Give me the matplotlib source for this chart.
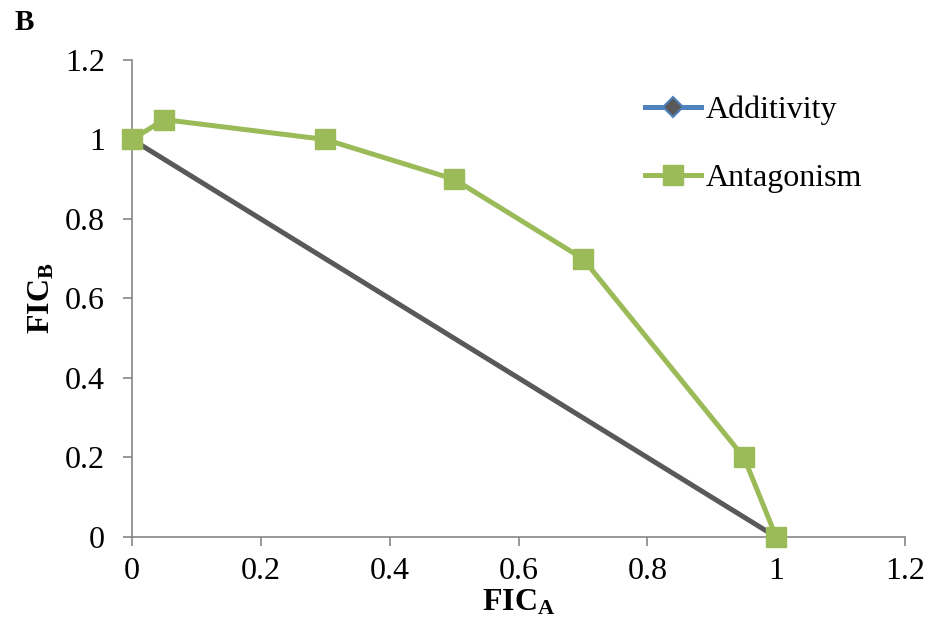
import matplotlib
matplotlib.use('Agg')
import matplotlib.pyplot as plt
from matplotlib.lines import Line2D

plt.rcParams['font.family'] = ['Liberation Serif', 'DejaVu Serif']
plt.rcParams['mathtext.fontset'] = 'custom'
plt.rcParams['mathtext.rm'] = 'Liberation Serif'
plt.rcParams['mathtext.bf'] = 'Liberation Serif:bold'

# data
add_x = [0, 1]
add_y = [1, 0]
ant_x = [0, 0.05, 0.3, 0.5, 0.7, 0.95, 1]
ant_y = [1, 1.05, 1.0, 0.9, 0.7, 0.2, 0]
ticks = [0, 0.2, 0.4, 0.6, 0.8, 1.0, 1.2]
tick_labels = ['0', '0.2', '0.4', '0.6', '0.8', '1', '1.2']

gray = '#595959'
blue = '#4F81BD'
green = '#9BBB59'
axis_gray = '#868686'

fig = plt.figure(figsize=(9.31, 6.28), dpi=100)
ax = fig.add_axes([0.1418, 0.1449, 0.8303, 0.7596])

ax.plot(add_x, add_y, color=gray, lw=3.6, marker='D', ms=9,
        mfc=gray, mec=gray, clip_on=False, zorder=3)
ax.plot(ant_x, ant_y, color=green, lw=3.6, marker='s', ms=14,
        mfc=green, mec=green, clip_on=False, zorder=4)

ax.set_xlim(0, 1.2)
ax.set_ylim(0, 1.2)
ax.set_xticks(ticks)
ax.set_xticklabels(tick_labels)
ax.set_yticks(ticks)
ax.set_yticklabels(tick_labels)

for s in ['top', 'right']:
    ax.spines[s].set_visible(False)
for s in ['left', 'bottom']:
    ax.spines[s].set_color(axis_gray)
    ax.spines[s].set_linewidth(1.2)
ax.tick_params(direction='out', length=6.5, width=1.2, color=axis_gray,
               labelsize=23)
ax.tick_params(axis='x', pad=8)
ax.tick_params(axis='y', pad=13)

ax.set_xlabel(r'$\mathbf{FIC_A}$', fontsize=23, labelpad=1)
ax.set_ylabel(r'$\mathbf{FIC_B}$', fontsize=23, labelpad=6)

handles = [
    Line2D([], [], color=blue, lw=3.6, marker='D', ms=10, mfc=gray, mec=blue, mew=1.5),
    Line2D([], [], color=green, lw=3.6, marker='s', ms=14, mfc=green, mec=green),
]
ax.legend(handles, ['Additivity', 'Antagonism'], loc='upper left',
          bbox_to_anchor=(0.626, 0.985), frameon=False, fontsize=23,
          handlelength=1.75, handletextpad=0.15, labelspacing=1.19)

fig.text(0.016, 0.964, 'B', fontsize=21, fontweight='bold', va='center')

fig.savefig('out.png', dpi=100)
